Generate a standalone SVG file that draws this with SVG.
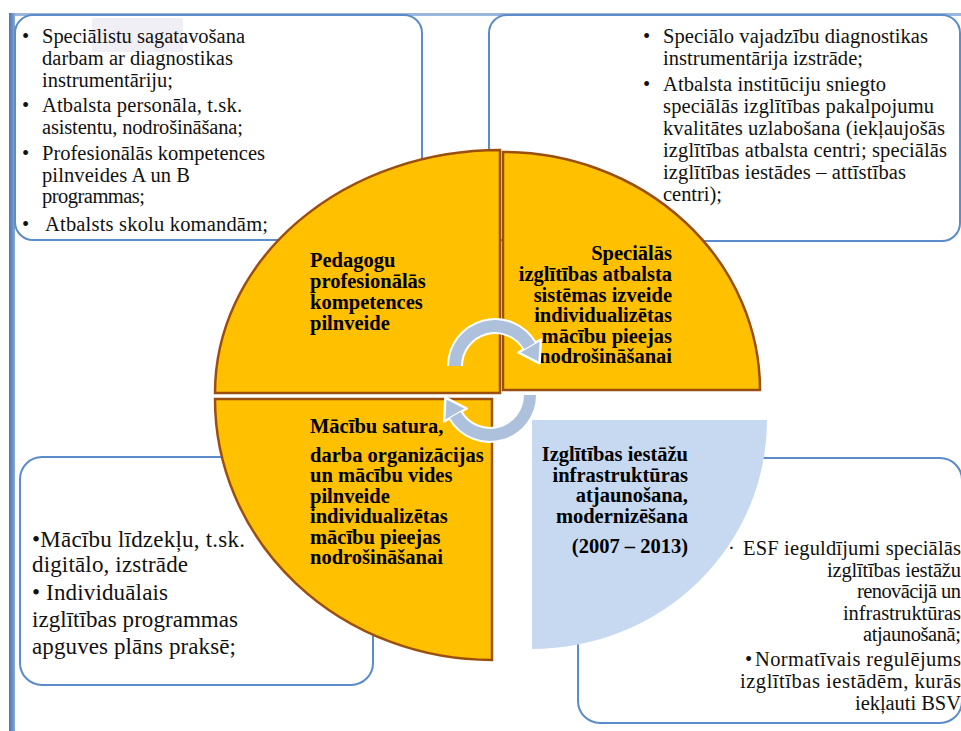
<svg xmlns="http://www.w3.org/2000/svg" width="961" height="731" viewBox="0 0 961 731">
<defs>
<linearGradient id="barg" x1="0" y1="0" x2="1" y2="0">
<stop offset="0" stop-color="#4a76b0"/>
<stop offset="1" stop-color="#86a8d6"/>
</linearGradient>
<style>
.box{fill:#fff;stroke:#5b8bc9;stroke-width:2}
.t{font-family:'Liberation Serif','Tinos','Times New Roman','DejaVu Serif','Noto Serif',serif;font-size:20.5px;fill:#111}
.tl{font-size:23px}
.tb{font-family:'Liberation Serif','Tinos','Times New Roman','DejaVu Serif','Noto Serif',serif;font-size:20.5px;font-weight:bold;fill:#000}
.end{text-anchor:end}
.q{fill:#FFC000;stroke:#9a4f0f;stroke-width:2.5}
.qb{fill:#C6D9F0}
.aw{fill:none;stroke:#fff;stroke-width:16}
.ac{fill:none;stroke:#adc0dc;stroke-width:12}
.ah{fill:#adc0dc;stroke:#fff;stroke-width:2.5;stroke-linejoin:round}
</style>
</defs>
<rect width="961" height="731" fill="#fff"/>
<rect x="9" y="13" width="952" height="3" fill="#9ab6dd"/>
<rect x="9" y="13" width="6" height="718" fill="url(#barg)"/>

<g id="box-top-left">
<rect class="box" x="15" y="15" width="407" height="225" rx="18"/>
<rect x="92" y="18" width="91" height="34" fill="#f1eff6"/>
<text class="t" x="22" y="43">•</text>
<text class="t" x="22" y="112">•</text>
<text class="t" x="22" y="160">•</text>
<text class="t" x="22" y="231">•</text>
<text class="t" x="42" y="43" textLength="203">Speciālistu sagatavošana</text>
<text class="t" x="42" y="65" textLength="191">darbam ar diagnostikas</text>
<text class="t" x="42" y="87" textLength="131">instrumentāriju;</text>
<text class="t" x="42" y="112" textLength="200">Atbalsta personāla, t.sk.</text>
<text class="t" x="42" y="134" textLength="201">asistentu, nodrošināšana;</text>
<text class="t" x="42" y="160" textLength="223">Profesionālās kompetences</text>
<text class="t" x="42" y="182" textLength="148">pilnveides A un B</text>
<text class="t" x="42" y="203" textLength="103">programmas;</text>
<text class="t" x="45" y="231" textLength="223">Atbalsts skolu komandām;</text>
</g>

<g id="box-top-right">
<rect class="box" x="489" y="15" width="471" height="226" rx="18"/>
<text class="t" x="643" y="43">•</text>
<text class="t" x="643" y="91">•</text>
<text class="t" x="663" y="43" textLength="265">Speciālo vajadzību diagnostikas</text>
<text class="t" x="663" y="65" textLength="200">instrumentārija izstrāde;</text>
<text class="t" x="663" y="91" textLength="223">Atbalsta institūciju sniegto</text>
<text class="t" x="663" y="113" textLength="271">speciālās izglītības pakalpojumu</text>
<text class="t" x="663" y="135" textLength="282">kvalitātes uzlabošana (iekļaujošās</text>
<text class="t" x="663" y="157" textLength="284">izglītības atbalsta centri; speciālās</text>
<text class="t" x="663" y="179" textLength="243">izglītības iestādes – attīstības</text>
<text class="t" x="663" y="201" textLength="59">centri);</text>
</g>

<g id="box-bottom-left">
<rect class="box" x="20" y="457" width="353" height="228" rx="22"/>
<text class="t tl" x="32" y="547" textLength="213">•Mācību līdzekļu, t.sk.</text>
<text class="t tl" x="32" y="572" textLength="156">digitālo, izstrāde</text>
<text class="t tl" x="32" y="600" textLength="136">• Individuālais</text>
<text class="t tl" x="32" y="627" textLength="206">izglītības programmas</text>
<text class="t tl" x="32" y="654" textLength="204">apguves plāns praksē;</text>
</g>

<g id="box-bottom-right">
<rect class="box" x="578" y="458" width="384" height="265" rx="22"/>
<text class="t" x="728" y="555">·</text>
<text class="t" x="745" y="666">•</text>
<text class="t" x="743" y="555" textLength="218">ESF ieguldījumi speciālās</text>
<text class="t" x="827" y="577" textLength="134">izglītības iestāžu</text>
<text class="t" x="857" y="598" textLength="104">renovācijā un</text>
<text class="t" x="843" y="620" textLength="118">infrastruktūras</text>
<text class="t" x="863" y="641" textLength="98">atjaunošanā;</text>
<text class="t" x="755" y="666" textLength="206">Normatīvais regulējums</text>
<text class="t" x="740" y="688" textLength="221">izglītības iestādēm, kurās</text>
<text class="t" x="855" y="710" textLength="106">iekļauti BSV</text>
</g>

<g id="quadrant-pedagogu">
<path class="q" d="M500,393 L215,393 A285,243 0 0 1 500,150 Z"/>
<text class="tb" x="310" y="267">Pedagogu</text>
<text class="tb" x="310" y="288">profesionālās</text>
<text class="tb" x="310" y="309">kompetences</text>
<text class="tb" x="310" y="330">pilnveide</text>
</g>

<g id="quadrant-specialas">
<path class="q" d="M503,390 L503,152 A257,238 0 0 1 760,390 Z"/>
<text class="tb end" x="672" y="260">Speciālās</text>
<text class="tb end" x="672" y="281">izglītības atbalsta</text>
<text class="tb end" x="672" y="302">sistēmas izveide</text>
<text class="tb end" x="672" y="322">individualizētas</text>
<text class="tb end" x="672" y="343">mācību pieejas</text>
<text class="tb end" x="672" y="363">nodrošināšanai</text>
</g>

<g id="quadrant-macibu-satura">
<path class="q" d="M492,399 L492,660 A277,261 0 0 1 215,399 Z"/>
<text class="tb" x="310" y="433">Mācību satura,</text>
<text class="tb" x="310" y="462">darba organizācijas</text>
<text class="tb" x="310" y="482">un mācību vides</text>
<text class="tb" x="310" y="503">pilnveide</text>
<text class="tb" x="310" y="523">individualizētas</text>
<text class="tb" x="310" y="544">mācību pieejas</text>
<text class="tb" x="310" y="564">nodrošināšanai</text>
</g>

<g id="quadrant-infrastruktura">
<path class="qb" d="M532,420 L767,420 A235,229 0 0 1 532,649 Z"/>
<text class="tb end" x="688" y="461">Izglītības iestāžu</text>
<text class="tb end" x="688" y="482">infrastruktūras</text>
<text class="tb end" x="688" y="502">atjaunošana,</text>
<text class="tb end" x="688" y="523">modernizēšana</text>
<text class="tb end" x="688" y="553">(2007 – 2013)</text>
</g>

<g id="connectors">
<path class="aw" d="M455,366 A40,40 0 0 1 529.6,346"/>
<polygon class="ah" points="540.9,339.5 518.3,352.5 539.6,363.3"/>
<path class="ac" d="M455,366 A40,40 0 0 1 529.6,346"/>
<path class="aw" d="M530,395 A40,40 0 0 1 455.4,415"/>
<polygon class="ah" points="444.1,421.5 466.7,408.5 445.4,397.7"/>
<path class="ac" d="M530,395 A40,40 0 0 1 455.4,415"/>
</g>
</svg>
